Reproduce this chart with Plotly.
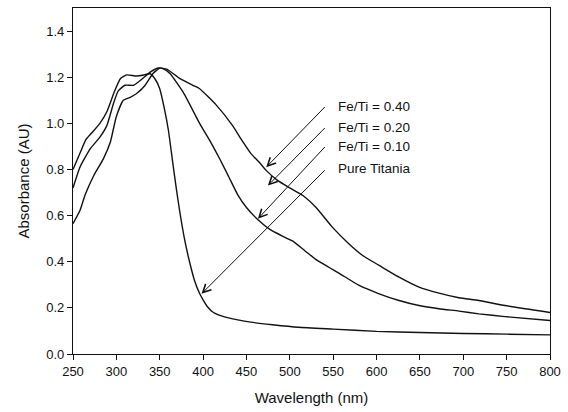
import plotly.graph_objects as go

# ---- data ----
wl_titania = [250, 258, 265, 272, 281, 289, 298, 305, 312, 323, 332, 339, 345, 350, 355, 360, 365, 369,
              373, 379, 385, 390, 396, 400, 405, 412, 423, 440, 455, 480, 510, 550, 600, 650, 700, 750, 800]
abs_titania = [0.80, 0.87, 0.93, 0.96, 1.00, 1.05, 1.14, 1.195, 1.21, 1.205, 1.21, 1.215, 1.19, 1.15, 1.07,
               0.97, 0.83, 0.72, 0.62, 0.49, 0.39, 0.32, 0.262, 0.235, 0.205, 0.18, 0.163, 0.148, 0.138,
               0.127, 0.116, 0.108, 0.098, 0.093, 0.089, 0.086, 0.083]

wl_fe010 = [250, 258, 270, 281, 289, 297, 302, 310, 320, 329, 339, 348, 355, 362, 377, 396, 410, 420, 430,
            440, 450, 463, 477, 492, 503, 517, 530, 545, 557, 580, 603, 626, 649, 672, 695, 718, 748, 800]
abs_fe010 = [0.72, 0.81, 0.89, 0.94, 0.99, 1.09, 1.14, 1.165, 1.165, 1.19, 1.222, 1.24, 1.235, 1.215, 1.135,
             1.00, 0.91, 0.84, 0.765, 0.69, 0.635, 0.583, 0.54, 0.51, 0.49, 0.449, 0.41, 0.376, 0.35, 0.297,
             0.261, 0.232, 0.21, 0.196, 0.186, 0.174, 0.162, 0.145]

wl_fe040 = [250, 258, 264, 274, 285, 293, 300, 308, 316, 323, 333, 342, 350, 358, 373, 388, 396, 415, 434,
            445, 455, 465, 473, 485, 500, 515, 530, 549, 568, 584, 603, 626, 649, 672, 695, 718, 748, 800]
abs_fe040 = [0.565, 0.622, 0.69, 0.774, 0.846, 0.918, 1.03, 1.10, 1.113, 1.128, 1.164, 1.215, 1.239, 1.235,
             1.195, 1.165, 1.15, 1.08, 0.99, 0.925, 0.87, 0.83, 0.795, 0.755, 0.72, 0.687, 0.636, 0.55, 0.478,
             0.427, 0.384, 0.333, 0.29, 0.264, 0.244, 0.232, 0.21, 0.18]

labels = ["Fe/Ti = 0.40", "Fe/Ti = 0.20", "Fe/Ti = 0.10", "Pure Titania"]
x_ticks = [250, 300, 350, 400, 450, 500, 550, 600, 650, 700, 750, 800]
y_ticks = [0.0, 0.2, 0.4, 0.6, 0.8, 1.0, 1.2, 1.4]

FONT = "Arial, Liberation Sans, sans-serif"
LINE = dict(color="#111111", width=1.4, shape="spline", smoothing=0.5)

fig = go.Figure()
for wl, ab, name in [(wl_fe040, abs_fe040, "Fe/Ti = 0.40"),
                     (wl_fe010, abs_fe010, "Fe/Ti = 0.10"),
                     (wl_titania, abs_titania, "Pure Titania")]:
    fig.add_trace(go.Scatter(x=wl, y=ab, mode="lines", line=LINE, name=name,
                             showlegend=False, hoverinfo="x+y"))

# label texts and arrow geometry (layout positions)
label_x = 553
label_y = [1.073, 0.983, 0.901, 0.805]
arrow_tail = [(542, 1.077), (542, 0.986), (542, 0.904), (542, 0.803)]
arrow_tip = [(472.8, 0.81), (474.7, 0.73), (463.2, 0.586), (398.2, 0.261)]

annotations = []
for lab, ly in zip(labels, label_y):
    annotations.append(dict(x=label_x, y=ly, xref="x", yref="y", text=lab, showarrow=False,
                            xanchor="left", yanchor="middle",
                            font=dict(family=FONT, size=13.5, color="#111111")))
for (tx, ty), (hx, hy) in zip(arrow_tail, arrow_tip):
    annotations.append(dict(x=hx, y=hy, ax=tx, ay=ty, xref="x", yref="y", axref="x", ayref="y",
                            text="", showarrow=True, arrowhead=5, arrowsize=1.6, arrowwidth=1,
                            arrowcolor="#111111", standoff=0, startstandoff=0))

fig.update_layout(
    width=568, height=412,
    margin=dict(l=73, r=16, t=7, b=58),
    paper_bgcolor="white", plot_bgcolor="white",
    font=dict(family=FONT, size=13, color="#111111"),
    annotations=annotations,
    xaxis=dict(range=[250, 800], tickvals=x_ticks, ticks="outside", ticklen=5, tickwidth=1,
               tickcolor="#111111", showline=True, linecolor="#111111", linewidth=1.2, mirror=True,
               showgrid=False, zeroline=False,
               title=dict(text="Wavelength (nm)", font=dict(size=15), standoff=14)),
    yaxis=dict(range=[0, 1.5], tickvals=y_ticks, tickformat=".1f", ticks="outside", ticklen=5,
               tickwidth=1, tickcolor="#111111", showline=True, linecolor="#111111", linewidth=1.2,
               mirror=True, showgrid=False, zeroline=False,
               title=dict(text="Absorbance (AU)", font=dict(size=15), standoff=12)),
)

fig.write_html("out.html", config={"displayModeBar": False},
               post_script="document.body.style.margin='0';document.body.style.overflow='hidden';")
